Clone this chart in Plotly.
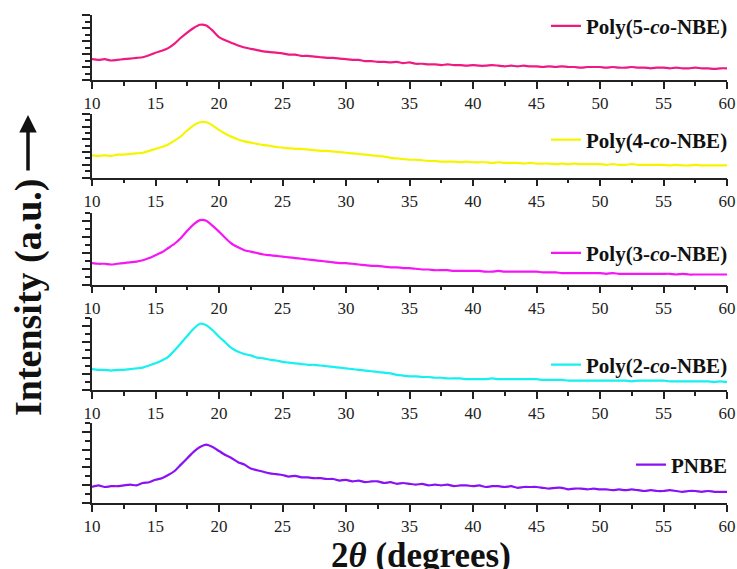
import plotly.graph_objects as go

# 2-theta grid (degrees), 0.5 deg step
two_theta = [10 + 0.5 * i for i in range(101)]

poly5 = [32, 31, 32, 30, 31, 32, 33, 34, 35, 38, 42, 45, 49, 56, 65, 73, 80, 85, 84, 76,
         66, 61, 57, 53, 50, 48, 46, 44, 43, 42, 41, 39, 39, 37, 37, 36, 35, 34, 34, 33,
         32, 31, 31, 29, 29, 28, 28, 27, 28, 26, 27, 25, 25, 24, 24, 23, 24, 23, 23, 22,
         23, 22, 22, 23, 22, 21, 22, 21, 22, 21, 21, 20, 21, 20, 21, 20, 20, 19, 20, 20,
         20, 19, 20, 19, 19, 20, 19, 19, 18, 19, 19, 18, 19, 18, 18, 19, 18, 18, 17, 18, 18]

poly4 = [35, 34, 35, 34, 36, 36, 37, 38, 39, 42, 45, 48, 52, 58, 65, 74, 82, 87, 87, 82,
         75, 69, 64, 60, 57, 55, 53, 51, 50, 48, 47, 46, 45, 45, 44, 43, 42, 42, 41, 40,
         39, 38, 37, 36, 35, 34, 33, 31, 30, 29, 28, 28, 27, 26, 26, 25, 25, 25, 24, 25,
         24, 24, 24, 23, 24, 23, 23, 23, 22, 23, 22, 22, 22, 21, 22, 21, 22, 21, 21, 21,
         21, 20, 21, 20, 20, 21, 20, 20, 20, 20, 20, 19, 20, 19, 19, 20, 19, 19, 19, 19, 19]

poly3 = [30, 29, 29, 28, 29, 30, 31, 32, 34, 37, 41, 45, 51, 57, 65, 75, 84, 90, 89, 82,
         74, 65, 57, 52, 48, 46, 44, 42, 41, 40, 39, 38, 37, 36, 35, 34, 33, 32, 31, 30,
         30, 29, 28, 27, 26, 26, 25, 24, 24, 23, 23, 22, 21, 21, 20, 20, 20, 19, 19, 19,
         19, 19, 18, 18, 19, 18, 18, 18, 18, 18, 18, 17, 17, 17, 16, 16, 16, 16, 16, 16,
         16, 15, 16, 15, 15, 15, 15, 15, 15, 15, 15, 15, 14, 15, 14, 14, 14, 14, 14, 14, 14]

poly2 = [29, 28, 28, 27, 28, 28, 29, 30, 31, 34, 37, 41, 46, 55, 65, 75, 85, 92, 90, 83,
         74, 66, 58, 53, 50, 48, 45, 44, 42, 41, 39, 38, 37, 36, 35, 35, 34, 33, 32, 31,
         30, 29, 28, 27, 26, 25, 24, 23, 21, 20, 19, 19, 18, 18, 17, 17, 16, 16, 16, 15,
         15, 15, 15, 16, 15, 15, 15, 15, 15, 15, 15, 14, 14, 14, 14, 13, 13, 13, 13, 13,
         13, 13, 13, 13, 13, 12, 13, 13, 13, 13, 13, 12, 12, 12, 12, 12, 12, 12, 11, 12, 11]

pnbe = [20, 22, 20, 21, 21, 22, 23, 22, 25, 26, 29, 31, 35, 40, 48, 56, 64, 70, 73, 70,
        65, 60, 56, 51, 48, 43, 41, 39, 37, 36, 35, 33, 34, 32, 32, 31, 31, 30, 30, 28,
        29, 27, 28, 26, 27, 27, 25, 26, 24, 25, 24, 23, 24, 22, 23, 22, 23, 21, 22, 22,
        21, 22, 20, 21, 21, 20, 21, 19, 20, 20, 20, 19, 18, 19, 19, 17, 18, 18, 17, 18,
        17, 17, 16, 17, 16, 17, 16, 15, 16, 15, 15, 16, 15, 14, 15, 15, 14, 15, 14, 14, 14]

names = ["<b>Poly(5-<i>co</i>-NBE)</b>", "<b>Poly(4-<i>co</i>-NBE)</b>",
         "<b>Poly(3-<i>co</i>-NBE)</b>", "<b>Poly(2-<i>co</i>-NBE)</b>", "<b>PNBE</b>"]
series = [poly5, poly4, poly3, poly2, pnbe]
colors = ["#ee1a82", "#f5f500", "#f516f5", "#15f0f0", "#8a10f5"]

x_ticks = [10, 15, 20, 25, 30, 35, 40, 45, 50, 55, 60]

# layout geometry (paper fractions)
y_domains = [[0.8668, 1.0], [0.6670, 0.7971], [0.4477, 0.5943], [0.2316, 0.3791], [0.0, 0.1639]]
legend_y = [0.977, 0.744, 0.512, 0.283, 0.078]
y_minor = [10, 10, 100 / 9, 100 / 9, 100 / 9]

fig = go.Figure()
serif = "Liberation Serif"

for i, (nm, ys, c) in enumerate(zip(names, series, colors)):
    k = "" if i == 0 else str(i + 1)
    fig.add_trace(go.Scatter(
        x=two_theta, y=ys, mode="lines", name=nm,
        line=dict(color=c, width=2.2, shape="spline", smoothing=0.6),
        xaxis="x" + k, yaxis="y" + k,
        legend="legend" + k,
    ))
    fig.layout["xaxis" + k] = dict(
        domain=[0, 1], anchor="y" + k, range=[10, 60],
        tickmode="array", tickvals=x_ticks, ticktext=[str(v) for v in x_ticks],
        ticks="outside", ticklen=7, tickwidth=1.5, tickcolor="#222",
        minor=dict(dtick=2.5, tick0=10, ticks="outside", ticklen=4, tickwidth=1.5, tickcolor="#222"),
        showline=True, linecolor="#222", linewidth=1.5, mirror=False,
        showgrid=False, zeroline=False,
        tickfont=dict(family=serif, size=17, color="#222"),
    )
    fig.layout["yaxis" + k] = dict(
        domain=y_domains[i], anchor="x" + k, range=[0, 100],
        tick0=0, dtick=2 * y_minor[i], showticklabels=False,
        ticks="outside", ticklen=8, tickwidth=1.5, tickcolor="#222",
        minor=dict(dtick=y_minor[i], tick0=0, ticks="outside", ticklen=5, tickwidth=1.5, tickcolor="#222"),
        showline=True, linecolor="#222", linewidth=1.5,
        showgrid=False, zeroline=False,
    )
    fig.layout["legend" + k] = dict(
        x=1.0094, xanchor="right", y=legend_y[i], yanchor="middle",
        bgcolor="rgba(0,0,0,0)", borderwidth=0,
        font=dict(family=serif, size=21, color="#111"),
        itemwidth=30,
    )

fig.update_layout(
    width=737, height=569,
    margin=dict(l=92, r=10, t=15, b=66, autoexpand=False),
    paper_bgcolor="white", plot_bgcolor="white",
    showlegend=True,
    annotations=[
        dict(text="<b>Intensity (a.u.)</b>", textangle=-90, xref="paper", yref="paper",
             x=-0.1, y=(503 - 297.5) / 488, xanchor="center", yanchor="middle", showarrow=False,
             font=dict(family=serif, size=38, color="#111")),
        dict(text="", xref="paper", yref="paper", x=(28 - 92) / 635, y=(503 - 115) / 488,
             ax=0, ay=57, axref="pixel", ayref="pixel", showarrow=True,
             arrowhead=2, arrowsize=1, arrowwidth=3.5, arrowcolor="#111"),
        dict(text="<b>2<i>θ</i> (degrees)</b>", xref="paper", yref="paper",
             x=(421 - 92) / 635, y=(503 - 555) / 488, xanchor="center", yanchor="middle", showarrow=False,
             font=dict(family=serif, size=35, color="#111")),
    ],
)

fig.write_html("out.html")
